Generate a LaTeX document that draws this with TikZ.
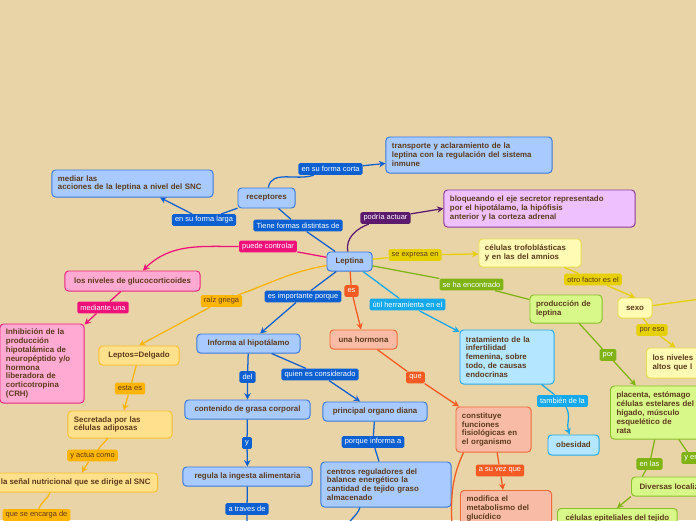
\documentclass[tikz,border=0pt]{standalone}
\usepackage{fontspec}
\setmainfont{Liberation Sans}
\usetikzlibrary{arrows.meta, positioning}
\definecolor{mapbg}{RGB}{233,212,167}
\definecolor{maptext}{RGB}{92,58,28}
\definecolor{mblue}{RGB}{12,96,210}
\definecolor{mbluefill}{RGB}{168,202,255}
\definecolor{mbluedraw}{RGB}{58,122,222}
\definecolor{mpurple}{RGB}{92,26,110}
\definecolor{mpurplefill}{RGB}{238,192,254}
\definecolor{mpurpledraw}{RGB}{140,60,160}
\definecolor{mpink}{RGB}{240,16,122}
\definecolor{mpinkfill}{RGB}{255,170,210}
\definecolor{mpinkdraw}{RGB}{232,40,126}
\definecolor{myellow}{RGB}{230,208,0}
\definecolor{myellowfill}{RGB}{255,250,180}
\definecolor{myellowdraw}{RGB}{232,220,80}
\definecolor{mgreen}{RGB}{128,180,20}
\definecolor{mgreenfill}{RGB}{216,248,138}
\definecolor{mgreendraw}{RGB}{138,192,42}
\definecolor{morange}{RGB}{255,180,0}
\definecolor{morangefill}{RGB}{255,224,140}
\definecolor{morangedraw}{RGB}{248,192,48}
\definecolor{mred}{RGB}{245,90,35}
\definecolor{mredfill}{RGB}{248,188,166}
\definecolor{mreddraw}{RGB}{240,106,58}
\definecolor{mcyan}{RGB}{20,168,236}
\definecolor{mcyanfill}{RGB}{180,230,255}
\definecolor{mcyandraw}{RGB}{40,170,234}
\newcommand{\boxfont}{\fontsize{5.6}{6.3}\selectfont\bfseries}
\newcommand{\tagfont}{\fontsize{5.3}{6}\selectfont}

\begin{document}
\begin{tikzpicture}[
    x=0.025cm, y=-0.025cm,
    box/.style={rectangle, rounded corners=2.5pt, line width=0.7pt, font=\boxfont, text=maptext, inner xsep=0.2cm, inner ysep=2pt, minimum height=0.475cm},
    multi/.style={align=left, inner xsep=0.15cm},
    bluebox/.style={box, draw=mbluedraw, fill=mbluefill},
    purplebox/.style={box, draw=mpurpledraw, fill=mpurplefill},
    pinkbox/.style={box, draw=mpinkdraw, fill=mpinkfill},
    yellowbox/.style={box, draw=myellowdraw, fill=myellowfill},
    greenbox/.style={box, draw=mgreendraw, fill=mgreenfill},
    orangebox/.style={box, draw=morangedraw, fill=morangefill},
    redbox/.style={box, draw=mreddraw, fill=mredfill},
    cyanbox/.style={box, draw=mcyandraw, fill=mcyanfill},
    tag/.style={rectangle, rounded corners=1pt, inner xsep=2.2pt, inner ysep=1pt, minimum height=0.29cm, font=\tagfont, text=white},
    bluetag/.style={tag, fill=mblue},
    purpletag/.style={tag, fill=mpurple},
    pinktag/.style={tag, fill=mpink},
    yellowtag/.style={tag, fill=myellow, text=maptext},
    greentag/.style={tag, fill=mgreen},
    orangetag/.style={tag, fill=morange, text=maptext},
    redtag/.style={tag, fill=mred},
    cyantag/.style={tag, fill=mcyan},
    link/.style={line width=0.9pt},
    bluelink/.style={link, draw=mblue},
    purplelink/.style={link, draw=mpurple},
    pinklink/.style={link, draw=mpink},
    yellowlink/.style={link, draw=myellow},
    greenlink/.style={link, draw=mgreen},
    orangelink/.style={link, draw=morange},
    redlink/.style={link, draw=mred},
    cyanlink/.style={link, draw=mcyan},
    arr/.style={-{Stealth[length=1.6mm, width=1.6mm]}}
]

\useasboundingbox (0,0) rectangle (696,520);
\clip (0,0) rectangle (696,520);
\fill[mapbg] (0,0) rectangle (696,520);

% Concepts
\node[bluebox, multi, text width=3.725cm, minimum height=0.675cm] (mediar) at (132.5,183.5) {mediar las\\acciones de la leptina a nivel del SNC};
\node[bluebox, minimum width=1.425cm, minimum height=0.5cm] (rec) at (266.5,198) {receptores};
\node[bluebox, multi, text width=3.85cm, minimum height=0.9cm] (transp) at (469,155) {transporte y aclaramiento de la\\leptina con la regulación del sistema\\inmune};
\node[purplebox, multi, text width=4.475cm, minimum height=0.925cm] (bloq) at (539.5,208.5) {bloqueando el eje secretor representado\\por el hipotálamo, la hipófisis\\anterior y la corteza adrenal};
\node[bluebox, minimum width=1.125cm] (lep) at (349.5,261.5) {Leptina};
\node[yellowbox, multi, text width=2.25cm, minimum height=0.7cm] (trofo) at (530,253) {células trofoblásticas\\y en las del amnios};
\node[pinkbox, minimum width=3.375cm, minimum height=0.5cm] (gluco) at (132.5,281) {los niveles de glucocorticoides};
\node[greenbox, multi, text width=1.5cm, minimum height=0.7cm] (prod) at (566,309) {producción de\\leptina};
\node[yellowbox, minimum width=0.85cm, minimum height=0.5cm] (sexo) at (635,308) {sexo};
\node[yellowbox, multi, anchor=west, text width=2.2cm, minimum height=0.75cm] (niveles) at (646,363) {los niveles\\altos que l};
\node[pinkbox, multi, text width=1.8cm, minimum height=1.975cm] (inhib) at (42,363.5) {Inhibición de la\\producción\\hipotalámica de\\neuropéptido y/o\\hormona\\liberadora de\\corticotropina\\(CRH)};
\node[orangebox, minimum width=2cm] (leptos) at (139,355.5) {Leptos=Delgado};
\node[bluebox, minimum width=2.575cm] (inf) at (248.5,343.5) {Informa al hipotálamo};
\node[redbox, minimum width=1.675cm] (horm) at (363.5,339.5) {una hormona};
\node[cyanbox, multi, text width=2.05cm, minimum height=1.35cm] (trat) at (507,357) {tratamiento de la\\infertilidad\\femenina, sobre\\todo, de causas\\endocrinas};
\node[bluebox, minimum width=3.125cm] (cont) at (247.5,409.5) {contenido de grasa corporal};
\node[bluebox, minimum width=2.6cm] (princ) at (375,411.5) {principal organo diana};
\node[redbox, multi, text width=1.575cm, minimum height=1.125cm] (const) at (493.5,429.5) {constituye\\funciones\\fisiológicas en\\el organismo};
\node[cyanbox, minimum width=1.275cm, minimum height=0.5cm] (obes) at (573.5,445) {obesidad};
\node[greenbox, multi, anchor=west, text width=2.2cm, minimum height=1.325cm] (plac) at (610,412.5) {placenta, estómago\\células estelares del\\hígado, músculo\\esquelético de\\rata};
\node[orangebox, multi, text width=2.3cm, minimum height=0.675cm] (secr) at (120,424.5) {Secretada por las\\células adiposas};
\node[bluebox, minimum width=3.225cm] (reg) at (247.5,476.5) {regula la ingesta alimentaria};
\node[bluebox, multi, text width=2.95cm, minimum height=1.125cm] (cent) at (386,484.5) {centros reguladores del\\balance energético la\\cantidad de tejido graso\\almacenado};
\node[orangebox, anchor=east, inner xsep=0.175cm] (senal) at (158,482.5) {la señal nutricional que se dirige al SNC};
\node[redbox, multi, anchor=north west, text width=1.975cm, minimum height=0.9cm] (modif) at (460,490) {modifica el\\metabolismo del\\glucídico};
\node[greenbox, anchor=west] (diver) at (631,486.5) {Diversas localizaciones};
\node[greenbox, anchor=north west] (epit) at (557,508) {células epiteliales del tejido};

% Linking words
\node[bluetag] (tLarga) at (204,220) {en su forma larga};
\node[bluetag] (tCorta) at (330.5,169) {en su forma corta};
\node[bluetag] (tTiene) at (298,225.5) {Tiene formas distintas de};
\node[purpletag] (tPodria) at (385.5,218) {podría actuar};
\node[pinktag] (tPuede) at (268,246.5) {puede controlar};
\node[yellowtag] (tExpresa) at (415,255) {se expresa en};
\node[greentag] (tEncontr) at (471.5,284.5) {se ha encontrado};
\node[orangetag] (tRaiz) at (221.5,301) {raíz griega};
\node[bluetag] (tImport) at (303,296.5) {es importante porque};
\node[redtag] (tEs) at (351.5,291) {es};
\node[cyantag] (tUtil) at (407.5,304.5) {útil herramienta en el};
\node[pinktag] (tMediante) at (103,307.5) {mediante una};
\node[yellowtag] (tOtro) at (593,279.5) {otro factor es el};
\node[yellowtag] (tPoreso) at (652,330) {por eso};
\node[greentag] (tPor) at (608,355) {por};
\node[orangetag] (tEsta) at (130,388.5) {esta es};
\node[bluetag] (tDel) at (247.5,377) {del};
\node[bluetag] (tQuien) at (320,374.5) {quien es considerado};
\node[redtag] (tQue) at (415.5,377.5) {que};
\node[cyantag] (tTambien) at (562.5,401) {también de la};
\node[bluetag] (tY) at (247,443) {y};
\node[bluetag] (tPorque) at (373,442) {porque informa a};
\node[orangetag] (tActua) at (92.5,455.5) {y actua como};
\node[redtag] (tSuvez) at (500,470.5) {a su vez que};
\node[greentag] (tEnlas) at (649.5,464) {en las};
\node[greentag, anchor=west] (tYen) at (681,458) {y en};
\node[bluetag] (tAtraves) at (247,509) {a traves de};
\node[orangetag] (tEncarga) at (36.5,515) {que se encarga de};

% Loose ends
\coordinate (sexoout) at (700,299);
\coordinate (regout) at (247,530);
\coordinate (centout) at (346,530);
\coordinate (constout) at (452,530);

% Leptina branches
\draw[bluelink] (lep) -- (tTiene) -- (rec);
\draw[bluelink, arr] (rec) -- (tLarga) -- (mediar);
\draw[bluelink, arr] (rec) to[out=80, in=200] (tCorta) -- (transp);
\draw[purplelink, arr] (lep) to[out=100, in=200] (tPodria) -- (bloq.west);
\draw[pinklink, arr] (lep) -- (tPuede) to[out=180, in=45] (gluco);
\draw[pinklink, arr] (gluco) -- (tMediante) -- (inhib);
\draw[yellowlink, arr] (lep) -- (tExpresa) -- (trofo);
\draw[greenlink] (lep) -- (tEncontr) -- (prod);
\draw[orangelink, arr] (lep) to[out=190, in=20] (tRaiz) -- (leptos.north);
\draw[bluelink, arr] (lep) -- (tImport) -- (inf);
\draw[redlink, arr] (lep) -- (tEs) -- (horm);
\draw[cyanlink, arr] (lep) -- (tUtil) -- (trat);

% Second level
\draw[yellowlink, arr] (trofo) -- (tOtro) -- (sexo.north);
\draw[yellowlink] (sexo) -- (sexoout);
\draw[yellowlink, arr] (sexo) -- (tPoreso) -- (niveles);
\draw[greenlink, arr] (prod) -- (tPor) -- (plac);
\draw[orangelink, arr] (leptos) -- (tEsta) -- (secr);
\draw[bluelink, arr] (inf) -- (tDel) -- (cont);
\draw[bluelink, arr] (inf) -- (tQuien) -- (princ);
\draw[redlink, arr] (horm) -- (tQue) -- (const);
\draw[cyanlink, arr] (trat) -- (tTambien) to[out=-60, in=110] (obes);
\draw[bluelink, arr] (cont) -- (tY) -- (reg);
\draw[bluelink] (princ) -- (tPorque) -- (cent);
\draw[orangelink, arr] (secr) -- (tActua) -- (senal);
\draw[redlink, arr] (const) -- (tSuvez) -- (modif);
\draw[greenlink] (plac) -- (tEnlas) -- ([xshift=0.28cm]diver.north west);
\draw[greenlink] (plac) -- (tYen);
\draw[greenlink, arr] (diver.south west) -- ([xshift=1.5cm]epit.north west);

% Running off the page
\draw[orangelink] ([xshift=-2.7cm]senal.south east) to[out=250, in=70] (tEncarga);
\draw[bluelink] (reg) -- (tAtraves) -- (regout);
\draw[bluelink] ([xshift=-0.65cm]cent.south) to[out=250, in=80] (centout);
\draw[redlink] ([xshift=0.2cm]const.south west) to[out=245, in=92] (constout);

\end{tikzpicture}
\end{document}
